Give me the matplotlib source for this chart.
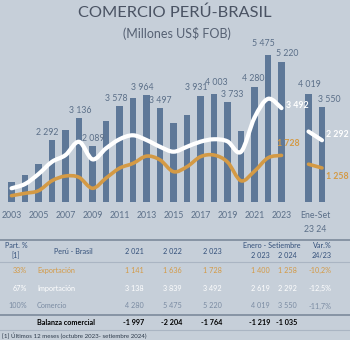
import matplotlib
matplotlib.use("Agg")
import matplotlib.pyplot as plt
from matplotlib.path import Path
from matplotlib.patches import PathPatch
from matplotlib.lines import Line2D
import numpy as np

plt.rcParams['font.family'] = ['Lato', 'DejaVu Sans']

# data (Millones US$ FOB)
years = list(range(2003, 2024))
comercio = [750, 980, 1405, 2292, 2675, 3136, 2089, 3022, 3578, 3858, 3964,
            3497, 2925, 3235, 3931, 4003, 3733, 2640, 4280, 5475, 5220]
importacion = [500, 660, 1033, 1490, 1740, 2237, 1580, 1990, 2330, 2478, 2300,
               2050, 1866, 2050, 2240, 2330, 2250, 1860, 3138, 3839, 3492]
exportacion = [224, 313, 410, 783, 958, 910, 500, 880, 1250, 1430, 1700,
               1560, 1120, 1306, 1680, 1740, 1480, 780, 1141, 1636, 1728]
es_labels = ["23", "24"]
es_comercio = [4019, 3550]
es_importacion = [2619, 2292]
es_exportacion = [1400, 1258]
labelled_years = [2006, 2008, 2009, 2011, 2013, 2014, 2017, 2018, 2019, 2021, 2022, 2023]

# table
tab_years = ["2 021", "2 022", "2 023"]
tab_es_years = ["2 023", "2 024"]
tab_rows = ["Exportación", "Importación", "Comercio"]
tab_part = ["33%", "67%", "100%"]
tab_vals = [["1 141", "1 636", "1 728", "1 400", "1 258", "-10,2%"],
            ["3 138", "3 839", "3 492", "2 619", "2 292", "-12,5%"],
            ["4 280", "5 475", "5 220", "4 019", "3 550", "-11,7%"]]
tab_balanza = ["-1 997", "-2 204", "-1 764", "-1 219", "-1 035"]

# label nudges (points) so labels don't collide, like the original
nudge = {2006: (-3.4, 5.5), 2008: (1, 5.5), 2009: (0.5, 5.5), 2011: (-2, 5.5),
         2013: (-3, 6), 2014: (0.5, 5.5), 2017: (-3.2, 6.5), 2018: (2, 8.6),
         2019: (3.4, 5.5), 2021: (-1, 6.2), 2022: (-3.4, 8.6), 2023: (4, 6),
         "23": (0.5, 6.5), "24": (5.5, 5)}

BG = "#c6cfd9"
BAR = "#5e7898"
LBL = "#5b6f88"
ORANGE = "#d49a45"
GREY = "#7a8ba2"
NAVY = "#34507a"

W, H = 350, 340
fig = plt.figure(figsize=(W / 100, H / 100), dpi=100, facecolor=BG)

def fx(x):
    return x / W

def fy(y):
    return 1 - y / H

# chart axes: baseline at y=201.7px, 13.5 px per year, first bar at 11.5px
base = 201.7
top = 40
ax = fig.add_axes([0, fy(base), 1, (base - top) / H])
ax.set_facecolor(BG)
ax.set_xlim(-11.5 / 13.5, (W - 11.5) / 13.5)
ax.set_ylim(0, (base - top) / 0.0268)
for s in ax.spines.values():
    s.set_visible(False)
ax.set_yticks([])

xs = np.arange(len(years))
xes = np.array([len(years) + 1, len(years) + 2])
ax.bar(xs, comercio, width=0.5, color=BAR)
ax.bar(xes, es_comercio, width=0.5, color=BAR)

def fmt(v):
    return f"{v:,}".replace(",", " ")

for x, y, v in zip(xs, comercio, years):
    if v in labelled_years:
        ax.annotate(fmt(y), (x, y), xytext=nudge[v], textcoords="offset points",
                    ha="center", va="center", fontsize=6.3, color=LBL)
for x, y, k in zip(xes, es_comercio, es_labels):
    ax.annotate(fmt(y), (x, y), xytext=nudge[k], textcoords="offset points",
                ha="center", va="center", fontsize=6.3, color=LBL)


def smooth(xv, yv, color, lw):
    pts = np.column_stack([xv, yv]).astype(float)
    verts = [pts[0]]
    codes = [Path.MOVETO]
    n = len(pts)
    for i in range(n - 1):
        p0 = pts[i - 1] if i > 0 else pts[i]
        p1 = pts[i]
        p2 = pts[i + 1]
        p3 = pts[i + 2] if i + 2 < n else pts[i + 1]
        verts += [p1 + (p2 - p0) / 6, p2 - (p3 - p1) / 6, p2]
        codes += [Path.CURVE4] * 3
    ax.add_patch(PathPatch(Path(verts, codes), fill=False, edgecolor=color,
                           lw=lw, capstyle="round", joinstyle="round"))


smooth(xs, exportacion, ORANGE, 2.6)
smooth(xs, importacion, "white", 3.0)
smooth(xes, es_exportacion, ORANGE, 2.6)
smooth(xes, es_importacion, "white", 3.0)

ax.annotate(fmt(importacion[-1]), (xs[-1], importacion[-1]), xytext=(3, 2), textcoords="offset points",
            ha="left", va="center", fontsize=6.3, color="white", fontweight="bold")
ax.annotate(fmt(exportacion[-1]), (xs[-1], exportacion[-1]), xytext=(-3, 8.5), textcoords="offset points",
            ha="left", va="center", fontsize=6.3, color=ORANGE, fontweight="bold")
ax.annotate(fmt(es_importacion[-1]), (xes[-1], es_importacion[-1]), xytext=(3, 4), textcoords="offset points",
            ha="left", va="center", fontsize=6.3, color="white", fontweight="bold")
ax.annotate(fmt(es_exportacion[-1]), (xes[-1], es_exportacion[-1]), xytext=(3, -6), textcoords="offset points",
            ha="left", va="center", fontsize=6.3, color=ORANGE, fontweight="bold")

ticks = list(xs[::2]) + [xes.mean()]
ticklabels = [str(y) for y in years[::2]] + ["Ene-Set\n" + " ".join(es_labels)]
ax.set_xticks(ticks)
ax.set_xticklabels(ticklabels, fontsize=6.3, color=LBL, va="top", linespacing=1.6)
ax.tick_params(axis="x", length=0, pad=7)

# titles
fig.text(fx(175), fy(13), "COMERCIO PERÚ-BRASIL", ha="center", va="center",
         fontsize=11.8, color="#4a5363")
fig.text(fx(177), fy(33), "(Millones US$ FOB)", ha="center", va="center",
         fontsize=9, color="#566173")

# table lines
def hline(y, color, lw):
    fig.add_artist(Line2D([0, 1], [fy(y), fy(y)], color=color, lw=lw,
                          transform=fig.transFigure))

hline(239.5, "#7c8a9b", 1.2)
hline(262, "#aab5c3", 0.8)
hline(315, "#7c8a9b", 1.2)
hline(330, "#aab5c3", 0.8)

fs = 5.2
fig.text(fx(16), fy(246), "Part. %", ha="center", va="center", fontsize=fs, color=NAVY)
fig.text(fx(16), fy(255.5), "[1]", ha="center", va="center", fontsize=fs, color=NAVY)
fig.text(fx(73), fy(251), "Perú - Brasil", ha="center", va="center", fontsize=fs, color=NAVY)
col_right = [144, 182, 222, 270, 297, 332]
for xr, t in zip(col_right[:3], tab_years):
    fig.text(fx(xr), fy(251), t, ha="right", va="center", fontsize=fs, color=NAVY)
fig.text(fx(272), fy(246), "Enero - Setiembre", ha="center", va="center", fontsize=fs, color=NAVY)
for xr, t in zip(col_right[3:5], tab_es_years):
    fig.text(fx(xr), fy(256), t, ha="right", va="center", fontsize=fs, color=NAVY)
fig.text(fx(332), fy(246), "Var.%", ha="right", va="center", fontsize=fs, color=NAVY)
fig.text(fx(332), fy(256), "24/23", ha="right", va="center", fontsize=fs, color=NAVY)

row_y = [270.5, 288.3, 306]
row_col = [ORANGE, "white", GREY]
for y, name, part, vals, c in zip(row_y, tab_rows, tab_part, tab_vals, row_col):
    fig.text(fx(27), fy(y), part, ha="right", va="center", fontsize=fs, color=c)
    fig.text(fx(37), fy(y), name, ha="left", va="center", fontsize=fs, color=c)
    for xr, v in zip(col_right, vals):
        fig.text(fx(xr), fy(y), v, ha="right", va="center", fontsize=fs, color=c)

fig.text(fx(37), fy(322.7), "Balanza comercial", ha="left", va="center",
         fontsize=fs, color="black", fontweight="bold")
for xr, v in zip(col_right[:5], tab_balanza):
    fig.text(fx(xr), fy(322.7), v, ha="right", va="center", fontsize=fs,
             color="black", fontweight="bold")

fig.text(fx(2), fy(336), "[1] Últimos 12 meses (octubre 2023- setiembre 2024)",
         ha="left", va="center", fontsize=4.4, color="#2d3a4a")

fig.savefig("out.png", dpi=100, facecolor=BG)
